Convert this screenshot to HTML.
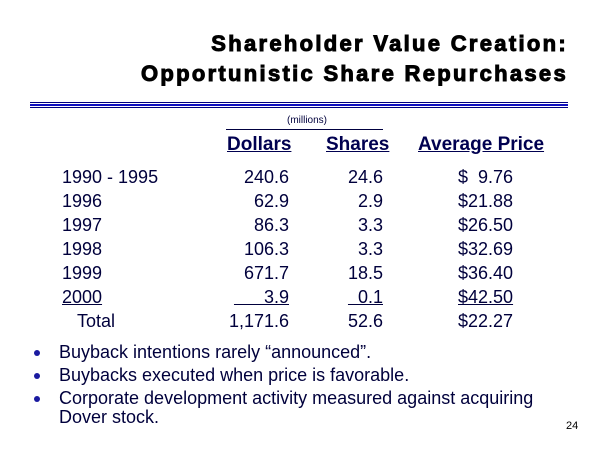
<!DOCTYPE html>
<html><head><style>
body{margin:0;width:600px;height:450px;background:#fff;position:relative;overflow:hidden;font-family:"Liberation Sans",sans-serif;color:#00003c}
.a{position:absolute;white-space:nowrap}
.t{font-weight:bold;font-size:22px;color:#000;right:32px;letter-spacing:2.3px;-webkit-text-stroke:1px #000}
.r{font-size:18px;line-height:24px}
.h{font-size:19px;text-decoration:underline;font-weight:bold;color:#000050}
.b{font-size:18px}
.dot{position:absolute;width:6px;height:6px;border-radius:50%;background:#1a1aa0}
</style></head><body>
<div class="a t" style="top:31px">Shareholder Value Creation:</div>
<div class="a t" style="top:61px">Opportunistic Share Repurchases</div>
<div class="a" style="left:30px;top:102px;width:538px;height:1px;background:#000080"></div>
<div class="a" style="left:30px;top:104px;width:538px;height:2px;background:#1010c0"></div>
<div class="a" style="left:30px;top:107px;width:538px;height:1px;background:#000080"></div>
<div class="a" style="left:287px;top:115px;font-size:10px">(millions)</div>
<div class="a" style="left:226px;top:129px;width:157px;height:1px;background:#000040"></div>
<div class="a h" style="left:227px;top:134px">Dollars</div>
<div class="a h" style="left:326px;top:134px">Shares</div>
<div class="a h" style="left:418px;top:134px">Average Price</div>
<div class="a r" style="left:62px;top:165px">1990 - 1995<br>1996<br>1997<br>1998<br>1999<br><u>2000</u><br>&nbsp;&nbsp;&nbsp;Total</div>
<div class="a r" style="right:311px;top:165px;text-align:right">240.6<br>62.9<br>86.3<br>106.3<br>671.7<br><u>&nbsp;&nbsp;&nbsp;&nbsp;&nbsp;&nbsp;3.9</u><br>1,171.6</div>
<div class="a r" style="right:217px;top:165px;text-align:right">24.6<br>2.9<br>3.3<br>3.3<br>18.5<br><u>&nbsp;&nbsp;0.1</u><br>52.6</div>
<div class="a r" style="left:458px;top:165px">$&nbsp;&nbsp;9.76<br>$21.88<br>$26.50<br>$32.69<br>$36.40<br><u>$42.50</u><br>$22.27</div>
<div class="dot" style="left:34px;top:350px"></div>
<div class="dot" style="left:34px;top:373px"></div>
<div class="dot" style="left:34px;top:396px"></div>
<div class="a b" style="left:59px;top:342px">Buyback intentions rarely “announced”.</div>
<div class="a b" style="left:59px;top:365px">Buybacks executed when price is favorable.</div>
<div class="a b" style="left:59px;top:388px">Corporate development activity measured against acquiring</div>
<div class="a b" style="left:59px;top:407px">Dover stock.</div>
<div class="a" style="left:566px;top:420px;font-size:11px;color:#000">24</div>
</body></html>
